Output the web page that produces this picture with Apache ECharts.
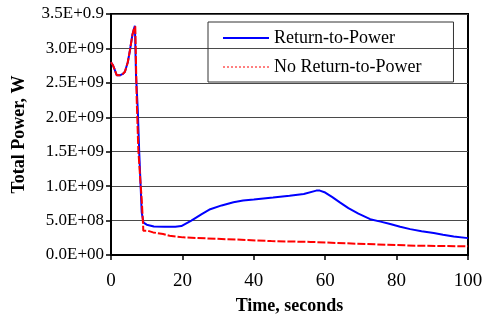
<!DOCTYPE html>
<html>
<head>
<meta charset="utf-8">
<script src="https://cdn.jsdelivr.net/npm/echarts@6/dist/echarts.min.js"></script>
<style>
  html, body { margin: 0; padding: 0; background: #fff; }
  #chart { width: 497px; height: 320px; }
</style>
</head>
<body>
<div id="chart"></div>
<script>
// Total power versus time, with and without return-to-power
const seriesNames = ['Return-to-Power', 'No Return-to-Power'];

const rtpTime = [0, 0.5, 0.9, 1.6, 2.5, 3.3, 3.9, 4.7, 5.3, 6.0, 6.4, 6.7, 7.0, 7.5, 7.9, 8.6, 9.1, 10, 12, 15, 18, 19.7, 22.5, 25.3, 27.8, 31, 34.3, 37, 40, 45.4, 50, 54, 57.5, 58.5, 60, 62, 64.2, 66.5, 69.3, 72.6, 75.5, 78.2, 81, 83.8, 87, 90.4, 93, 96, 100];
const rtpPower = [2.80e9, 2.76e9, 2.71e9, 2.61e9, 2.61e9, 2.63e9, 2.66e9, 2.80e9, 2.97e9, 3.20e9, 3.28e9, 3.33e9, 2.62e9, 2.11e9, 1.50e9, 6.2e8, 4.7e8, 4.4e8, 4.15e8, 4.1e8, 4.12e8, 4.2e8, 5.0e8, 5.9e8, 6.65e8, 7.2e8, 7.66e8, 7.9e8, 8.05e8, 8.34e8, 8.6e8, 8.85e8, 9.35e8, 9.35e8, 9.07e8, 8.4e8, 7.6e8, 6.8e8, 6.0e8, 5.2e8, 4.85e8, 4.5e8, 4.1e8, 3.76e8, 3.45e8, 3.18e8, 2.95e8, 2.7e8, 2.45e8];

const nrtpTime = [0, 0.5, 0.9, 1.6, 2.5, 3.3, 3.9, 4.7, 5.3, 6.0, 6.4, 6.8, 7.2, 7.65, 8.2, 8.6, 9.0, 9.05, 10.4, 10.4, 11.8, 11.8, 14.6, 14.6, 16.4, 16.4, 20.2, 20.2, 29.5, 29.5, 36.5, 36.5, 44.9, 44.9, 55.8, 55.8, 68.9, 68.9, 85.2, 85.2, 100];
const nrtpPower = [2.80e9, 2.76e9, 2.71e9, 2.61e9, 2.61e9, 2.63e9, 2.66e9, 2.80e9, 2.97e9, 3.20e9, 3.28e9, 3.32e9, 2.26e9, 1.53e9, 1.10e9, 8.1e8, 4.2e8, 3.51e8, 3.51e8, 3.28e8, 3.28e8, 3.04e8, 3.04e8, 2.79e8, 2.79e8, 2.56e8, 2.56e8, 2.36e8, 2.36e8, 2.21e8, 2.21e8, 2.02e8, 2.02e8, 1.9e8, 1.9e8, 1.64e8, 1.64e8, 1.35e8, 1.35e8, 1.28e8, 1.26e8];

const yTickLabels = ['0.0E+00', '5.0E+08', '1.0E+09', '1.5E+09', '2.0E+09', '2.5E+09', '3.0E+09', '3.5E+0.9'];
const xTicks = [0, 20, 40, 60, 80, 100];

const FONT = '"Liberation Serif", "Times New Roman", serif';
const pair = (ts, vs) => ts.map((t, i) => [t, vs[i]]);

const chart = echarts.init(document.getElementById('chart'), null, { renderer: 'canvas' });
chart.setOption({
  animation: false,
  backgroundColor: '#ffffff',
  grid: {
    left: 111, right: 29, top: 14, bottom: 64,
    show: true, borderColor: '#000', borderWidth: 2, backgroundColor: 'transparent'
  },
  legend: {
    orient: 'vertical',
    left: 208, top: 22,
    padding: [6, 32, 5, 14],
    itemGap: 9,
    itemWidth: 46, itemHeight: 14,
    borderColor: '#333', borderWidth: 1,
    backgroundColor: 'transparent',
    textStyle: { fontFamily: FONT, fontSize: 18, color: '#000', lineHeight: 20 },
    data: [
      { name: seriesNames[0], itemStyle: { opacity: 0 }, lineStyle: { color: '#0000ff', width: 2, type: 'solid', opacity: 1 } },
      { name: seriesNames[1], itemStyle: { opacity: 0 }, lineStyle: { color: '#ff0000', width: 1, type: [2, 2], opacity: 1 } }
    ]
  },
  xAxis: {
    type: 'value', min: 0, max: 100, interval: 20,
    name: 'Time, seconds', nameLocation: 'middle', nameGap: 42,
    nameTextStyle: { fontFamily: FONT, fontSize: 18, fontWeight: 'bold', color: '#000' },
    axisLine: { lineStyle: { color: '#000', width: 2 } },
    axisTick: { show: true, inside: false, length: 5, lineStyle: { color: '#000', width: 1.5 } },
    axisLabel: {
      margin: 17, fontFamily: FONT, fontSize: 19, color: '#000',
      formatter: v => (xTicks.indexOf(v) >= 0 ? String(v) : '')
    },
    splitLine: { show: false }
  },
  yAxis: {
    type: 'value', min: 0, max: 3.5e9, interval: 5e8,
    name: 'Total Power, W', nameLocation: 'middle', nameGap: 83,
    nameTextStyle: { fontFamily: FONT, fontSize: 18, fontWeight: 'bold', color: '#000' },
    axisLine: { show: true, lineStyle: { color: '#000', width: 2 } },
    axisTick: { show: true, inside: false, length: 5, lineStyle: { color: '#000', width: 1.5 } },
    axisLabel: {
      margin: 7, fontFamily: FONT, fontSize: 17, color: '#000',
      formatter: v => yTickLabels[Math.round(v / 5e8)]
    },
    splitLine: { show: true, lineStyle: { color: '#4a4a4a', width: 1 } }
  },
  series: [
    {
      name: seriesNames[0], type: 'line',
      data: pair(rtpTime, rtpPower),
      showSymbol: false, symbol: 'none',
      lineStyle: { color: '#0000ff', width: 2 },
      itemStyle: { color: '#0000ff' },
      z: 2
    },
    {
      name: seriesNames[1], type: 'line',
      data: pair(nrtpTime, nrtpPower),
      showSymbol: false, symbol: 'none',
      lineStyle: { color: '#ff0000', width: 2, type: [8, 2] },
      itemStyle: { color: '#ff0000' },
      z: 3
    }
  ]
});
</script>
</body>
</html>
